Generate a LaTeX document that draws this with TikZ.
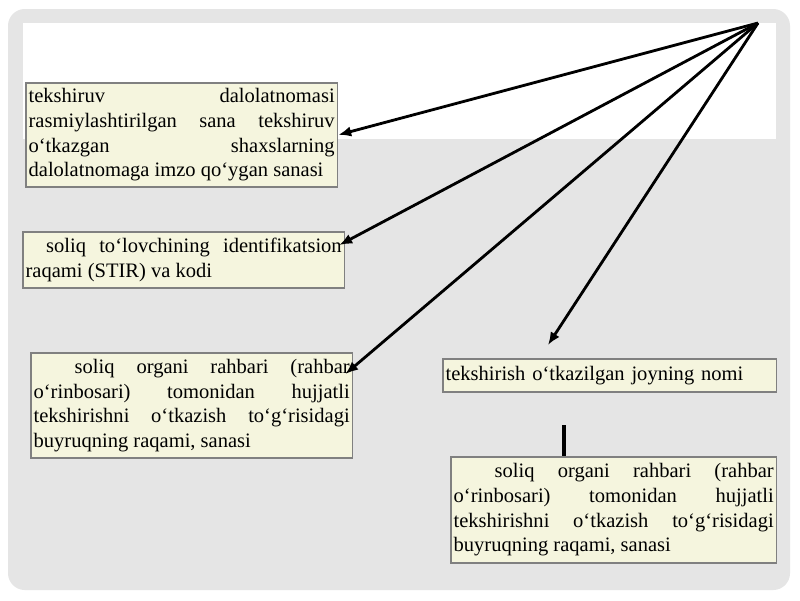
\documentclass[tikz,border=0pt]{standalone}
\usepackage{fontspec}
\setmainfont{Liberation Serif}
\usetikzlibrary{arrows.meta}
\usetikzlibrary{calc}
\usetikzlibrary{positioning}
\definecolor{panelgray}{RGB}{229,229,229}
\definecolor{boxfill}{RGB}{245,245,222}
\definecolor{boxborder}{RGB}{128,128,128}

\begin{document}
\begin{tikzpicture}[x=0.025cm,y=-0.025cm,>/.tip={Latex[length=3.2mm,width=2.6mm]},
	infobox/.style={draw=boxborder,line width=1.2pt,fill=boxfill,anchor=north west,align=justify,inner xsep=0.07cm,inner ysep=0pt,font=\fontsize{14.6}{17.5}\selectfont},
	link/.style={->,line width=2pt}]
	\useasboundingbox[fill=white] (0,0) rectangle (800,600);
	\fill[panelgray,rounded corners=12pt] (8,9) rectangle (790,590);
	\fill[white] (23,23) rectangle (776,139);
	\coordinate (apex) at (758,23);
	\node (b1) [infobox,text width=7.65cm,minimum height=2.6cm] at (25,82) {tekshiruv dalolatnomasi\linebreak rasmiylashtirilgan sana tekshiruv\linebreak o‘tkazgan shaxslarning\linebreak dalolatnomaga imzo qo‘ygan sanasi};
	\node (b2) [infobox,text width=7.9cm,minimum height=1.4cm] at (22,231) {\hspace*{1em}soliq to‘lovchining identifikatsion\linebreak raqami (STIR) va kodi};
	\node (b3) [infobox,text width=7.9cm,minimum height=2.63cm] at (30,352) {\hspace*{2em}soliq organi rahbari (rahbar\linebreak o‘rinbosari) tomonidan hujjatli\linebreak tekshirishni o‘tkazish to‘g‘risidagi\linebreak buyruqning raqami, sanasi};
	\node (b4) [infobox,align=left,text width=8.2cm,minimum height=0.82cm] at (442,358) {tekshirish o‘tkazilgan joyning nomi};
	\node (b5) [infobox,text width=8.0cm,minimum height=2.65cm] at (450,456) {\hspace*{2em}soliq organi rahbari (rahbar\linebreak o‘rinbosari) tomonidan hujjatli\linebreak tekshirishni o‘tkazish to‘g‘risidagi\linebreak buyruqning raqami, sanasi};
	\draw[link] (apex) -- (b1.east);
	\draw[link] (apex) -- ($(b2.north east)+(-6,14)$);
	\draw[link] (apex) -- ($(b3.north east)+(-8,22)$);
	\draw[link] (apex) -- ($(b4.north west)+(106,-13)$);
	\coordinate (bar) at ($(b5.north west)+(114,-31)$);
	\draw[line width=2.2pt] (bar) -- (bar |- b5.north);
\end{tikzpicture}
\end{document}
